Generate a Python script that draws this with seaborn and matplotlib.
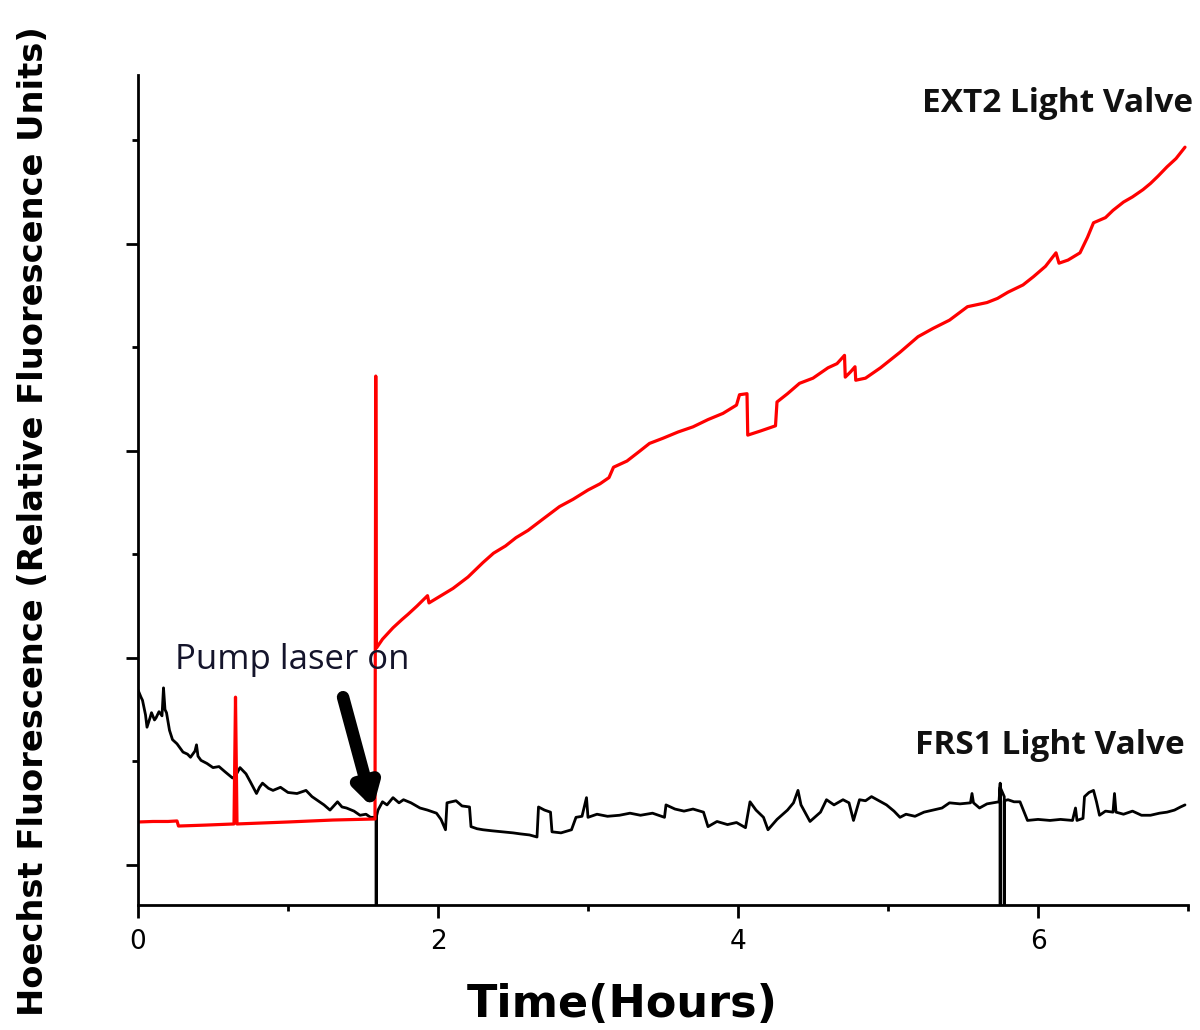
import numpy as np
import pandas as pd
import matplotlib
matplotlib.use('Agg')
import matplotlib.pyplot as plt
import seaborn as sns

# EXT2 light valve trace (hours, relative units)
ext2_time = [0.00, 0.10, 0.20, 0.26, 0.27, 0.45, 0.64, 0.65, 0.66, 1.00, 1.30, 1.58,
             1.585, 1.59, 1.63, 1.70, 1.76, 1.80, 1.86, 1.93, 1.94, 2.02, 2.10, 2.20,
             2.30, 2.37, 2.45, 2.52, 2.60, 2.70, 2.81, 2.90, 3.00, 3.08, 3.14, 3.17,
             3.26, 3.34, 3.41, 3.50, 3.60, 3.70, 3.80, 3.90, 3.99, 4.01, 4.06, 4.065,
             4.15, 4.25, 4.26, 4.33, 4.41, 4.50, 4.60, 4.66, 4.71, 4.715, 4.75, 4.78,
             4.785, 4.85, 4.95, 5.08, 5.20, 5.30, 5.41, 5.53, 5.66, 5.73, 5.80, 5.90,
             5.97, 6.05, 6.12, 6.14, 6.20, 6.28, 6.33, 6.37, 6.45, 6.50, 6.57, 6.63,
             6.70, 6.75, 6.80, 6.86, 6.92, 6.98]
ext2_value = [0.415, 0.42, 0.42, 0.425, 0.376, 0.385, 0.396, 1.62, 0.396, 0.415, 0.434,
              0.444, 4.72, 2.095, 2.18, 2.29, 2.37, 2.42, 2.50, 2.60, 2.53, 2.60, 2.67,
              2.78, 2.92, 3.01, 3.08, 3.16, 3.23, 3.34, 3.46, 3.53, 3.62, 3.68, 3.74,
              3.84, 3.90, 3.99, 4.07, 4.12, 4.18, 4.23, 4.30, 4.36, 4.44, 4.54, 4.55,
              4.15, 4.19, 4.24, 4.47, 4.55, 4.65, 4.70, 4.80, 4.84, 4.92, 4.71, 4.76,
              4.81, 4.68, 4.70, 4.80, 4.95, 5.10, 5.18, 5.26, 5.39, 5.43, 5.47, 5.53,
              5.60, 5.68, 5.78, 5.91, 5.81, 5.84, 5.91, 6.06, 6.20, 6.25, 6.32, 6.40,
              6.45, 6.52, 6.58, 6.65, 6.74, 6.82, 6.93]

# FRS1 light valve trace
frs1_time = [0.00, 0.02, 0.03, 0.05, 0.06, 0.08, 0.09, 0.11, 0.12, 0.14, 0.16, 0.17,
             0.18, 0.19, 0.21, 0.23, 0.26, 0.30, 0.33, 0.35, 0.38, 0.39, 0.40, 0.42,
             0.46, 0.50, 0.54, 0.58, 0.63, 0.65, 0.68, 0.72, 0.75, 0.79, 0.81, 0.83,
             0.87, 0.90, 0.95, 1.00, 1.06, 1.12, 1.16, 1.19, 1.24, 1.28, 1.33, 1.36,
             1.39, 1.44, 1.48, 1.52, 1.55, 1.588, 1.588, 1.588, 1.60, 1.63, 1.66,
             1.70, 1.74, 1.77, 1.82, 1.88, 1.93, 1.99, 2.02, 2.05, 2.06, 2.12, 2.16,
             2.21, 2.22, 2.26, 2.30, 2.36, 2.43, 2.50, 2.55, 2.61, 2.66, 2.67, 2.71,
             2.75, 2.76, 2.82, 2.89, 2.92, 2.96, 2.99, 3.00, 3.06, 3.13, 3.21, 3.28,
             3.35, 3.43, 3.51, 3.52, 3.58, 3.64, 3.70, 3.77, 3.80, 3.86, 3.93, 3.99,
             4.05, 4.08, 4.12, 4.17, 4.20, 4.26, 4.33, 4.37, 4.40, 4.42, 4.45, 4.48,
             4.55, 4.59, 4.64, 4.70, 4.74, 4.77, 4.81, 4.85, 4.89, 4.94, 4.99, 5.04,
             5.08, 5.12, 5.18, 5.24, 5.30, 5.36, 5.41, 5.48, 5.55, 5.56, 5.57, 5.61,
             5.66, 5.74, 5.748, 5.748, 5.748, 5.775, 5.775, 5.775, 5.80, 5.84, 5.88,
             5.93, 6.00, 6.08, 6.15, 6.23, 6.25, 6.26, 6.30, 6.31, 6.34, 6.37, 6.39,
             6.41, 6.45, 6.50, 6.51, 6.52, 6.57, 6.63, 6.69, 6.75, 6.81, 6.86, 6.91,
             6.95, 6.98]
frs1_value = [1.69, 1.62, 1.59, 1.45, 1.33, 1.42, 1.47, 1.40, 1.42, 1.48, 1.44, 1.71,
              1.50, 1.47, 1.30, 1.21, 1.17, 1.09, 1.07, 1.04, 1.10, 1.16, 1.05, 1.01,
              0.98, 0.94, 0.95, 0.90, 0.84, 0.86, 0.94, 0.88, 0.80, 0.69, 0.75, 0.79,
              0.74, 0.72, 0.75, 0.70, 0.69, 0.72, 0.66, 0.63, 0.58, 0.53, 0.61, 0.56,
              0.55, 0.52, 0.48, 0.49, 0.46, 0.46, -1.0, 0.46, 0.53, 0.61, 0.58, 0.65,
              0.60, 0.63, 0.60, 0.55, 0.53, 0.50, 0.44, 0.34, 0.60, 0.62, 0.57, 0.56,
              0.37, 0.35, 0.34, 0.33, 0.32, 0.31, 0.30, 0.29, 0.27, 0.56, 0.53, 0.51,
              0.32, 0.31, 0.34, 0.46, 0.47, 0.65, 0.46, 0.49, 0.47, 0.48, 0.50, 0.48,
              0.50, 0.46, 0.58, 0.54, 0.52, 0.54, 0.51, 0.37, 0.42, 0.39, 0.41, 0.36,
              0.61, 0.53, 0.46, 0.34, 0.44, 0.53, 0.60, 0.72, 0.58, 0.50, 0.42, 0.51,
              0.63, 0.58, 0.63, 0.60, 0.43, 0.63, 0.62, 0.66, 0.62, 0.58, 0.52, 0.46,
              0.49, 0.47, 0.51, 0.53, 0.55, 0.60, 0.59, 0.60, 0.69, 0.60, 0.55, 0.59,
              0.61, 0.79, -1.0, 0.75, 0.66, -1.0, 0.62, 0.63, 0.61, 0.61, 0.43, 0.44,
              0.43, 0.44, 0.43, 0.55, 0.43, 0.45, 0.66, 0.70, 0.72, 0.61, 0.48, 0.52,
              0.51, 0.69, 0.51, 0.49, 0.52, 0.48, 0.48, 0.50, 0.51, 0.53, 0.56, 0.58]

x_major = [0, 2, 4, 6]
x_minor = [1, 3, 5, 7]
y_major = [0, 2, 4, 6]
y_minor = [1, 3, 5, 7]

sns.set_theme(style='ticks')
plt.rcParams['font.family'] = ['DejaVu Sans']
plt.rcParams['text.color'] = 'black'
plt.rcParams['axes.labelcolor'] = 'black'
plt.rcParams['xtick.color'] = 'black'
plt.rcParams['ytick.color'] = 'black'

ext2 = pd.DataFrame({'time': ext2_time, 'value': ext2_value})
frs1 = pd.DataFrame({'time': frs1_time, 'value': frs1_value})

fig = plt.figure(figsize=(12, 10.3), dpi=100)
ax = fig.add_axes([0.115, 0.1214, 0.875, 0.8056])

sns.lineplot(data=frs1, x='time', y='value', ax=ax, color='black', lw=2.0,
             estimator=None, sort=False)
sns.lineplot(data=ext2, x='time', y='value', ax=ax, color='#ff0000', lw=2.3,
             estimator=None, sort=False)

ax.set_xlim(0, 7)
ax.set_ylim(-0.386, 7.625)
ax.set_xticks(x_major)
ax.set_xticks(x_minor, minor=True)
ax.set_yticks(y_major)
ax.set_yticks(y_minor, minor=True)
ax.set_yticklabels([])
ax.tick_params(which='major', direction='out', length=9, width=2, color='black',
               labelsize=19, labelcolor='black', pad=8)
ax.tick_params(which='minor', direction='out', length=4.5, width=2, color='black')
for side in ['left', 'bottom']:
    ax.spines[side].set_linewidth(2)
    ax.spines[side].set_color('black')
sns.despine(ax=ax)

ax.set_xlabel('Time(Hours)', fontsize=32, fontweight='bold', color='black')
ax.xaxis.set_label_coords(0.461, -0.094)
ax.set_ylabel('Hoechst Fluorescence (Relative Fluorescence Units)', fontsize=24.2,
              fontweight='bold', color='black')
ax.yaxis.set_label_coords(-0.084, 0.463)

ax.text(6.133, 7.355, 'EXT2 Light Valve', fontsize=24, fontweight='bold',
        family=['Open Sans', 'DejaVu Sans'], ha='center', va='center', color='#111111')
ax.text(6.08, 1.158, 'FRS1 Light Valve', fontsize=24, fontweight='bold',
        family=['Open Sans', 'DejaVu Sans'], ha='center', va='center', color='#111111')
ax.text(1.027, 1.98, 'Pump laser on', fontsize=25,
        family=['Open Sans', 'DejaVu Sans'], ha='center', va='center', color='#14142b')

ax.annotate('', xy=(1.567, 0.55), xytext=(1.367, 1.62),
            arrowprops=dict(arrowstyle='-|>,head_length=0.6,head_width=0.35',
                            lw=9, color='black', mutation_scale=20,
                            shrinkA=0, shrinkB=0))

fig.savefig('out.png', dpi=100)
